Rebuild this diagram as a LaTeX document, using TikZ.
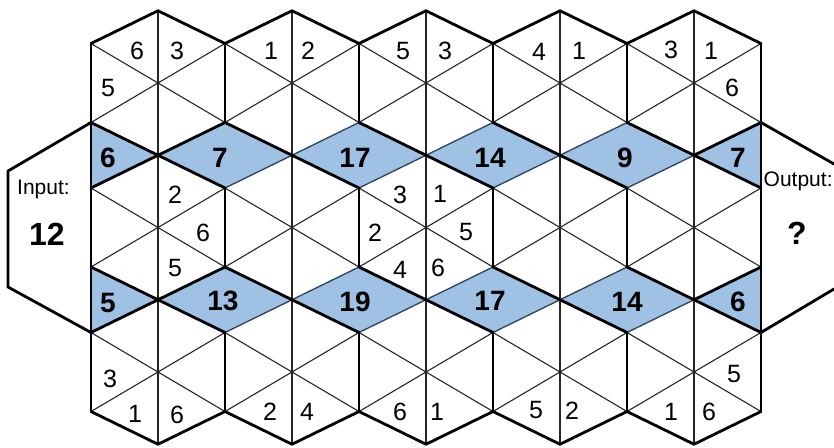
\documentclass[tikz,border=0pt]{standalone}
\usepackage{fontspec}
\setmainfont{Liberation Sans}
\definecolor{cellblue}{RGB}{158,193,228}
\definecolor{rimblue}{RGB}{45,65,95}
\begin{document}
\begin{tikzpicture}[x=1pt,y=-1pt,
  thinline/.style={line width=1.1pt, black!85},
  boldline/.style={line width=2.8pt, black, line cap=round, line join=round},
  rimline/.style={line width=1.3pt, rimblue},
  fillblue/.style={fill=cellblue},
  digit/.style={font=\fontsize{25}{25}\selectfont, inner sep=0pt},
  bigdigit/.style={font=\fontsize{28}{28}\selectfont\bfseries, inner sep=0pt},
  tag/.style={font=\fontsize{21}{21}\selectfont, inner sep=0pt},
  bigtag/.style={font=\fontsize{32}{32}\selectfont\bfseries, inner sep=0pt},
]
\useasboundingbox (0,0) rectangle (834,447);
\fill[white] (0,0) rectangle (834,447);
% geometry: X(k)=91+67k ; row centres 83, 227.5, 372 ; tip 72.25 ; side 39.5 ; half width 67
% input / output hexagons
\draw[boldline] (91,122.5) -- (8,171) -- (8,287) -- (91,332.5);
\draw[boldline] (761,122.5) -- (834,164);
\draw[boldline] (761,332.5) -- (834,289);
% blue diamonds
\foreach \b in {0,1}{
  \pgfmathsetmacro{\T}{155.25+144.5*\b}
  \pgfmathsetmacro{\sb}{122.5+144.5*\b}
  \pgfmathsetmacro{\st}{188+144.5*\b}
  \foreach \k in {2,4,6,8}{
    \pgfmathsetmacro{\xc}{91+67*\k}
    \fill[fillblue] (\xc,\sb) -- (\xc+67,\T) -- (\xc,\st) -- (\xc-67,\T) -- cycle;
  }
  \fill[fillblue] (91,\sb) -- (158,\T) -- (91,\st) -- cycle;
  \fill[fillblue] (761,\sb) -- (694,\T) -- (761,\st) -- cycle;
}
% thin triangle lines inside the hexagons
\foreach \r in {0,1,2}{
  \pgfmathsetmacro{\cy}{83+144.5*\r}
  \foreach \j in {0,...,4}{
    \pgfmathsetmacro{\cx}{158+134*\j}
    \draw[thinline] (\cx,\cy-72.25) -- (\cx,\cy+72.25);
    \draw[thinline] (\cx-67,\cy-39.5) -- (\cx+67,\cy+39.5);
    \draw[thinline] (\cx+67,\cy-39.5) -- (\cx-67,\cy+39.5);
  }
}
% diamond rims and bold edges
\foreach \b in {0,1}{
  \pgfmathsetmacro{\T}{155.25+144.5*\b}
  \pgfmathsetmacro{\sb}{122.5+144.5*\b}
  \pgfmathsetmacro{\st}{188+144.5*\b}
  \foreach \k in {2,4,6,8}{
    \pgfmathsetmacro{\xc}{91+67*\k}
    \draw[rimline] (\xc,\sb) -- (\xc+67,\T) -- (\xc,\st) -- (\xc-67,\T) -- cycle;
    \draw[boldline] (\xc,\sb) -- (\xc+67,\T);
    \draw[boldline] (\xc-67,\T) -- (\xc,\st);
  }
  \draw[boldline] (158,\T) -- (91+134,\sb);
  \draw[boldline] (91,\sb) -- (158,\T) -- (91,\st);
  \draw[boldline] (761,\sb) -- (694,\T) -- (761,\st);
}
% bold hexagon sides
\foreach \r in {0,1,2}{
  \pgfmathsetmacro{\cy}{83+144.5*\r}
  \foreach \j in {1,...,4}{
    \pgfmathsetmacro{\xs}{91+134*\j}
    \draw[boldline] (\xs,\cy-39.5) -- (\xs,\cy+39.5);
  }
}
\draw[boldline] (91,43.5) -- (91,411.5);
\draw[boldline] (761,43.5) -- (761,411.5);
% top and bottom outline
\foreach \j in {0,...,4}{
  \pgfmathsetmacro{\cx}{158+134*\j}
  \draw[boldline] (\cx-67,43.5) -- (\cx,10.75) -- (\cx+67,43.5);
  \draw[boldline] (\cx-67,411.5) -- (\cx,444.25) -- (\cx+67,411.5);
}
% top row numbers
\node[digit] (a1) at (137,51) {6};
\node[digit] (a2) at (177,51) {3};
\node[digit] (a3) at (108,88) {5};
\node[digit] (a4) at (271,51) {1};
\node[digit] (a5) at (308,51) {2};
\node[digit] (a6) at (403,51) {5};
\node[digit] (a7) at (445,51) {3};
\node[digit] (a8) at (539,52) {4};
\node[digit] (a9) at (579,51) {1};
\node[digit] (a10) at (671,50) {3};
\node[digit] (a11) at (711,51) {1};
\node[digit] (a12) at (732,88) {6};
% middle row numbers
\node[digit] (b1) at (175,195) {2};
\node[digit] (b2) at (203,233) {6};
\node[digit] (b3) at (175,268) {5};
\node[digit] (b4) at (400,195) {3};
\node[digit] (b5) at (375,233) {2};
\node[digit] (b6) at (400,270) {4};
\node[digit] (b7) at (440,194) {1};
\node[digit] (b8) at (466,232) {5};
\node[digit] (b9) at (438,268) {6};
% bottom row numbers
\node[digit] (c1) at (110,379) {3};
\node[digit] (c2) at (135,414) {1};
\node[digit] (c3) at (177,415) {6};
\node[digit] (c4) at (270,412) {2};
\node[digit] (c5) at (307,412) {4};
\node[digit] (c6) at (400,412) {6};
\node[digit] (c7) at (437,412) {1};
\node[digit] (c8) at (536,410) {5};
\node[digit] (c9) at (572,411) {2};
\node[digit] (c10) at (671,412) {1};
\node[digit] (c11) at (709,412) {6};
\node[digit] (c12) at (734,374) {5};
% diamond numbers
\node[bigdigit] (d1) at (108,158) {6};
\node[bigdigit] (d2) at (220,158) {7};
\node[bigdigit] (d3) at (355,158) {17};
\node[bigdigit] (d4) at (490,158) {14};
\node[bigdigit] (d5) at (625,158) {9};
\node[bigdigit] (d6) at (738,158) {7};
\node[bigdigit] (e1) at (108,303) {5};
\node[bigdigit] (e2) at (223,301) {13};
\node[bigdigit] (e3) at (355,302) {19};
\node[bigdigit] (e4) at (490,301) {17};
\node[bigdigit] (e5) at (627,302) {14};
\node[bigdigit] (e6) at (738,302) {6};
% input / output labels
\node[tag, anchor=base] (inlab) at (43.5,194) {Input:};
\node[bigtag, anchor=base] (inval) at (47,245) {12};
\node[tag, anchor=base west] (outlab) at (763.5,186) {Output:};
\node[bigtag, anchor=base] (outval) at (797,244) {?};
\end{tikzpicture}
\end{document}
